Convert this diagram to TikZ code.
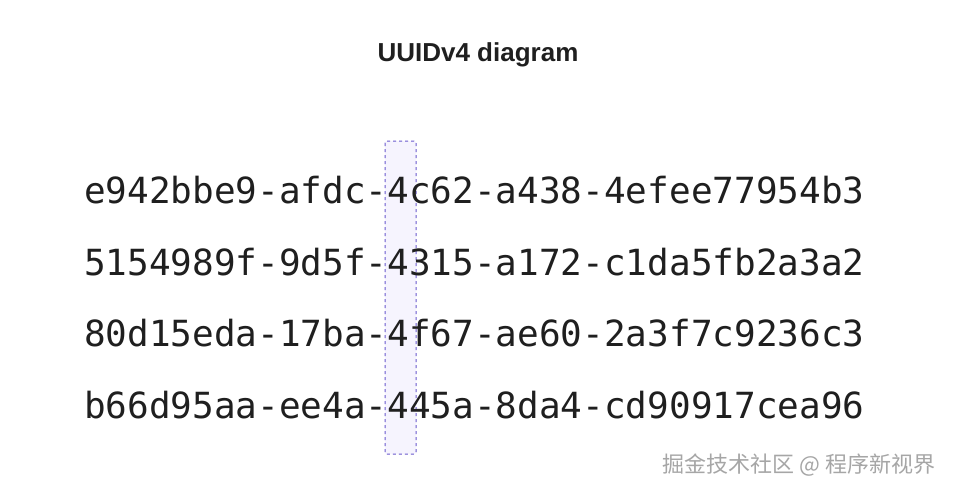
\documentclass[tikz,border=0pt]{standalone}
\usepackage{fontspec}
\setmainfont{Liberation Sans}
\newfontfamily\monof{DejaVu Sans Mono}
\newfontfamily\cjk{Noto Sans CJK SC}
\definecolor{boxline}{HTML}{6A5ACD}
\definecolor{boxfill}{HTML}{F6F4FE}
\definecolor{txt}{HTML}{1F1F1F}
\begin{document}
\begin{tikzpicture}[x=1pt,y=-1pt,
  uuid/.style={font=\monof\fontsize{36}{36}\selectfont, text=txt, inner sep=0pt, anchor=west},
  hl/.style={draw=boxline, fill=boxfill, dashed, dash pattern=on 3pt off 3pt, line width=1pt, rounded corners=2pt}]
\useasboundingbox (0,0) rectangle (954,496);
\fill[white] (0,0) rectangle (954,496);
\path[hl] (385,141) rectangle (416,454);
\node[font=\bfseries\fontsize{26}{26}\selectfont, text=txt] (title) at (478,55) {UUIDv4 diagram};
\node[uuid] (r1) at (84,190) {e942bbe9-afdc-4c62-a438-4efee77954b3};
\node[uuid] (r2) at (84,262) {5154989f-9d5f-4315-a172-c1da5fb2a3a2};
\node[uuid] (r3) at (84,333) {80d15eda-17ba-4f67-ae60-2a3f7c9236c3};
\node[uuid] (r4) at (84,405) {b66d95aa-ee4a-445a-8da4-cd90917cea96};
\node[font=\cjk\fontsize{22}{22}\selectfont, text=gray!70, anchor=east] (wm) at (939,465) {掘金技术社区 @ 程序新视界};
\end{tikzpicture}
\end{document}
